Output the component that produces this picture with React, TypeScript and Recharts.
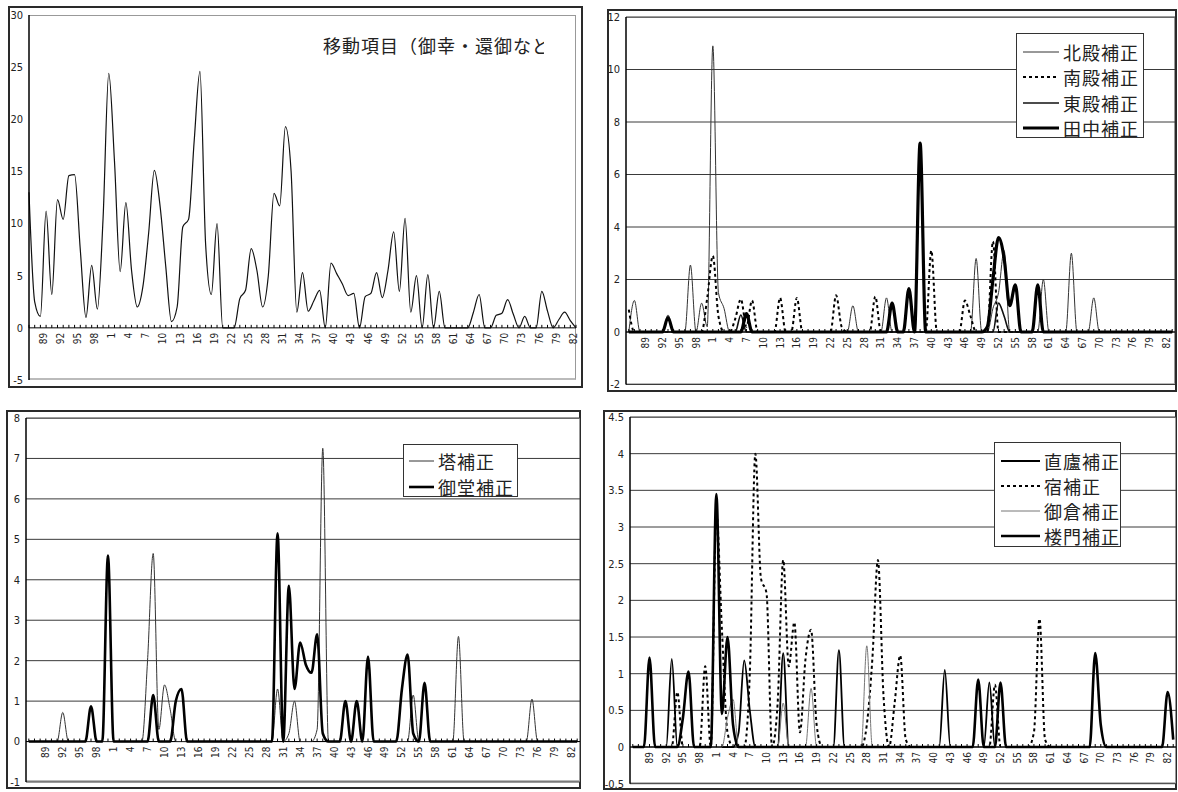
import React from 'react';
import { LineChart, Line, XAxis, YAxis, CartesianGrid, ReferenceLine } from 'recharts';

const NARROW = "'Liberation Sans Narrow', 'Arial Narrow', 'DejaVu Sans Condensed', sans-serif";
const CJK = "'Noto Sans CJK JP', 'Noto Sans CJK SC', sans-serif";

// year labels (two-digit), top-left panel runs 86..82, the others 86..83
const yearsA: string[] = [
  '86', '87', '88', '89', '90', '91', '92', '93', '94', '95', '96', '97', '98', '99',
  '0', '1', '2', '3', '4', '5', '6', '7', '8', '9',
  '10', '11', '12', '13', '14', '15', '16', '17', '18', '19',
  '20', '21', '22', '23', '24', '25', '26', '27', '28', '29',
  '30', '31', '32', '33', '34', '35', '36', '37', '38', '39',
  '40', '41', '42', '43', '44', '45', '46', '47', '48', '49',
  '50', '51', '52', '53', '54', '55', '56', '57', '58', '59',
  '60', '61', '62', '63', '64', '65', '66', '67', '68', '69',
  '70', '71', '72', '73', '74', '75', '76', '77', '78', '79',
  '80', '81', '82',
];
const yearsB: string[] = [...yearsA, '83'];

// 移動項目
const moveVals = [
  13, 2.5, 1.1, 11.2, 3.2, 12.3, 10.4, 14.6, 14.7, 7.5,
  1.0, 6.0, 1.8, 10.5, 24.4, 16, 5.4, 12, 5.5, 2.0,
  4.0, 9.1, 15.1, 11.7, 5.9, 0.6, 2.0, 9.7, 10.4, 18,
  24.6, 8, 3.2, 10.0, 0, 0, 0, 2.8, 3.6, 7.6,
  5.5, 2.0, 5, 12.9, 11.7, 19.3, 15, 1.5, 5.3, 1.6,
  2.6, 3.6, 0, 6.2, 5.2, 4.2, 3.1, 3.3, 0, 3.0,
  3.3, 5.3, 2.9, 5.5, 9.2, 3.5, 10.5, 1.5, 5.0, 0,
  5.1, 0, 3.5, 0, 0, 0, 0, 0, 1.5, 3.2,
  0, 0, 1.2, 1.4, 2.7, 1.3, 0, 1.1, 0, 0,
  3.5, 1.6, 0, 0.8, 1.5, 0.7, 0,
];

// 北殿・南殿・東殿・田中
const hokudenVals = [
  0, 1.2, 0, 0, 0, 0, 0, 0.65, 0, 0,
  0, 2.55, 0, 1.1, 0.2, 10.9, 1.5, 0.9, 0, 0,
  0, 0, 0, 0, 0, 0, 0, 0, 0, 0,
  0, 0, 0, 0, 0, 0, 0, 0, 0, 0,
  1.0, 0, 0, 0, 0, 0, 1.3, 0, 0, 0,
  0, 0, 0, 0, 0, 0, 0, 0, 0, 0,
  0, 0, 2.8, 0, 0, 0.9, 1.5, 3.1, 0, 0,
  0, 0, 0, 0, 2.0, 0, 0, 0, 0, 3.0,
  0, 0, 0, 1.3, 0, 0, 0, 0, 0, 0,
  0, 0, 0, 0, 0, 0, 0, 0,
];
const nandenVals = [
  0.85, 0, 0, 0, 0, 0, 0, 0, 0, 0,
  0, 0, 0, 0, 1.3, 2.9, 0.6, 0, 0, 0.5,
  1.25, 0.2, 1.2, 0, 0, 0, 0, 1.3, 0, 0,
  1.3, 0, 0, 0, 0, 0, 0, 1.4, 0.2, 0,
  0, 0, 0, 0, 1.35, 0, 0, 0, 0, 0,
  0, 0, 0, 0, 3.1, 0, 0, 0, 0, 0,
  1.2, 0.6, 0, 0, 0, 3.45, 0, 0, 0, 0,
  0, 0, 0, 0, 0, 0, 0, 0, 0, 0,
  0, 0, 0, 0, 0, 0, 0, 0, 0, 0,
  0, 0, 0, 0, 0, 0, 0, 0,
];
const todenVals = [
  0, 0, 0, 0, 0, 0, 0, 0, 0, 0,
  0, 0, 0, 0, 0, 0, 0, 0, 0, 0,
  0.65, 0, 0, 0, 0, 0, 0, 0, 0, 0,
  0, 0, 0, 0, 0, 0, 0, 0, 0, 0,
  0, 0, 0, 0, 0, 0, 0, 0, 0, 0,
  0, 0, 0, 0, 0, 0, 0, 0, 0, 0,
  0, 0, 0, 0, 0, 0, 1.1, 0.6, 0, 0,
  0, 0, 0, 0, 0, 0, 0, 0, 0, 0,
  0, 0, 0, 0, 0, 0, 0, 0, 0, 0,
  0, 0, 0, 0, 0, 0, 0, 0,
];
const tanakaVals = [
  0, 0, 0, 0, 0, 0, 0, 0.55, 0, 0,
  0, 0, 0, 0, 0, 0, 0, 0, 0, 0,
  0, 0.7, 0, 0, 0, 0, 0, 0, 0, 0,
  0, 0, 0, 0, 0, 0, 0, 0, 0, 0,
  0, 0, 0, 0, 0, 0, 0, 1.1, 0, 0,
  1.65, 0, 7.2, 0, 0, 0, 0, 0, 0, 0,
  0, 0, 0, 0, 0.2, 2.0, 3.6, 2.8, 1.0, 1.8,
  0, 0, 0, 1.8, 0, 0, 0, 0, 0, 0,
  0, 0, 0, 0, 0, 0, 0, 0, 0, 0,
  0, 0, 0, 0, 0, 0, 0, 0,
];

// 塔・御堂
const touVals = [
  0, 0, 0, 0, 0, 0, 0.72, 0, 0, 0,
  0, 0, 0, 0, 0, 0, 0, 0, 0, 0,
  0, 2.0, 4.65, 0.3, 1.4, 0.8, 0, 0, 0, 0,
  0, 0, 0, 0, 0, 0, 0, 0, 0, 0,
  0, 0, 0, 0, 1.3, 0, 0.2, 1.0, 0, 0,
  0, 0.3, 7.25, 0, 0, 0, 0, 0, 0, 0,
  0, 0, 0, 0, 0, 0, 0, 0, 1.15, 0,
  0, 0, 0, 0, 0, 0, 2.6, 0, 0, 0,
  0, 0, 0, 0, 0, 0, 0, 0, 0, 1.05,
  0, 0, 0, 0, 0, 0, 0, 0,
];
const midouVals = [
  0, 0, 0, 0, 0, 0, 0, 0, 0, 0,
  0, 0.87, 0, 0, 4.6, 0, 0, 0, 0, 0,
  0, 0, 1.15, 0, 0, 0, 1.0, 1.3, 0, 0,
  0, 0, 0, 0, 0, 0, 0, 0, 0, 0,
  0, 0, 0, 0, 5.15, 0, 3.85, 1.3, 2.45, 1.9,
  1.7, 2.65, 0.2, 0, 0, 0, 1.0, 0, 1.0, 0,
  2.1, 0, 0, 0, 0, 0, 1.3, 2.15, 0.2, 0,
  1.45, 0, 0, 0, 0, 0, 0, 0, 0, 0,
  0, 0, 0, 0, 0, 0, 0, 0, 0, 0,
  0, 0, 0, 0, 0, 0, 0, 0,
];

// 直廬・宿・御倉・楼門
const jikiroVals = [
  0, 0, 0, 0, 0, 0, 0, 1.2, 0, 0,
  0, 0, 0, 0, 0, 0, 0, 0, 0, 0.2,
  1.18, 0.5, 0, 0, 0, 0, 0, 1.28, 0, 0,
  0, 0, 0, 0, 0, 0, 0, 1.32, 0, 0,
  0, 0, 0, 0, 0, 0, 0, 0, 0, 0,
  0, 0, 0, 0, 0, 0, 1.05, 0, 0, 0,
  0, 0, 0, 0, 0.88, 0, 0, 0, 0, 0,
  0, 0, 0, 0, 0, 0, 0, 0, 0, 0,
  0, 0, 0, 0, 0, 0, 0, 0, 0, 0,
  0, 0, 0, 0, 0, 0, 0, 0,
];
const shukuVals = [
  0, 0, 0, 0, 0, 0, 0, 0, 0.75, 0,
  0, 0, 0, 1.1, 0, 3.2, 1.6, 0.2, 0, 0,
  0, 1.0, 4.0, 2.3, 2.1, 0, 0.6, 2.55, 1.1, 1.7,
  0.2, 1.2, 1.6, 0.3, 0, 0, 0, 0, 0, 0,
  0, 0, 0.3, 1.2, 2.55, 0.7, 0, 0.6, 1.25, 0.1,
  0, 0, 0, 0, 0, 0, 0, 0, 0, 0,
  0, 0, 0, 0, 0, 0.85, 0, 0, 0, 0,
  0, 0, 0.2, 1.75, 0.1, 0, 0, 0, 0, 0,
  0, 0, 0, 0, 0, 0, 0, 0, 0, 0,
  0, 0, 0, 0, 0, 0, 0, 0,
];
const mikuraVals = [
  0, 0, 0, 0, 0, 0, 0, 0, 0, 0,
  0, 0, 0, 0, 0, 0, 0, 0.4, 0.65, 0,
  0, 0, 0, 0, 0, 0, 0, 0.6, 0, 0,
  0, 0, 0.8, 0, 0, 0, 0, 0, 0, 0,
  0, 0, 1.38, 0, 0, 0, 0, 0, 0, 0,
  0, 0, 0, 0, 0, 0, 0, 0, 0, 0,
  0, 0, 0, 0, 0, 0, 0, 0, 0, 0,
  0, 0, 0, 0, 0, 0, 0, 0, 0, 0,
  0, 0, 0, 0, 0, 0, 0, 0, 0, 0,
  0, 0, 0, 0, 0, 0, 0, 0,
];
const roumonVals = [
  0, 0, 0, 1.22, 0, 0, 0, 0, 0, 0.4,
  1.03, 0, 0, 0, 0, 3.45, 0.45, 1.5, 0.3, 0,
  0, 0, 0, 0, 0, 0, 0, 0, 0, 0,
  0, 0, 0, 0, 0, 0, 0, 0, 0, 0,
  0, 0, 0, 0, 0, 0, 0, 0, 0, 0,
  0, 0, 0, 0, 0, 0, 0, 0, 0, 0,
  0, 0, 0.92, 0, 0, 0, 0.88, 0, 0, 0,
  0, 0, 0, 0, 0, 0, 0, 0, 0, 0,
  0, 0, 0, 1.28, 0.3, 0, 0, 0, 0, 0,
  0, 0, 0, 0, 0, 0, 0.75, 0.1,
];

type Series = { key: string; name: string; values: number[]; stroke: string; width: number; dash?: string };
type Rect = { left: number; top: number; width: number; height: number };

interface LegendBox extends Rect { firstRow: number; rowH: number; lineW: number; lineX: number }

interface PanelProps {
  box: Rect;
  plot: { left: number; top: number; right: number; bottom: number };
  domain: [number, number];
  yTicks: number[];
  years: string[];
  series: Series[];
  grid: boolean;
  between: boolean;
  labelDx: number;
  legend?: LegendBox;
}

const Legend = ({ lg, items }: { lg: LegendBox; items: Series[] }) => (
  <div style={{
    position: 'absolute', left: lg.left, top: lg.top, width: lg.width, height: lg.height,
    border: '1px solid #333', background: '#fff', boxSizing: 'border-box',
  }}>
    {items.map((s, i) => (
      <div key={s.key} style={{ position: 'absolute', left: 0, top: lg.firstRow + i * lg.rowH - 12, height: 24, display: 'flex', alignItems: 'center' }}>
        <svg width={lg.lineX + lg.lineW + 4} height={24}>
          <line x1={lg.lineX} x2={lg.lineX + lg.lineW} y1={12} y2={12} stroke={s.stroke}
            strokeWidth={s.width} strokeDasharray={s.dash} />
        </svg>
        <span style={{ fontFamily: CJK, fontSize: 18, letterSpacing: 1, color: '#222', lineHeight: '24px', whiteSpace: 'nowrap' }}>
          {s.name}
        </span>
      </div>
    ))}
  </div>
);

const X_AXIS_H = 2;

const Panel = ({ box, plot, domain, yTicks, years, series, grid, between, labelDx, legend }: PanelProps) => {
  const data = years.map((y, i) => {
    const row: Record<string, string | number> = { year: y };
    series.forEach((s) => { row[s.key] = s.values[i]; });
    return row;
  });

  const plotW = plot.right - plot.left;
  const plotH = plot.bottom - plot.top;
  const step = between ? plotW / years.length : plotW / (years.length - 1);
  const mTop = plot.top - box.top;
  const zeroY = mTop + (plotH * domain[1]) / (domain[1] - domain[0]);

  const renderTick = (props: any) => {
    const { x, index, payload } = props;
    const show = index > 0 && index % 3 === 0;
    return (
      <g key={`t-${index}`}>
        <line x1={x} x2={x} y1={zeroY - 3} y2={zeroY} stroke="#000" strokeWidth={1} />
        {show && (
          <text transform={`translate(${x + labelDx},${zeroY + 5}) rotate(-90)`} textAnchor="end"
            dominantBaseline="central" fontSize={10} fill="#222" fontFamily={NARROW}>
            {payload.value}
          </text>
        )}
      </g>
    );
  };

  return (
    <div style={{ position: 'absolute', left: box.left, top: box.top, width: box.width, height: box.height }}>
      <div style={{ position: 'absolute', inset: 0, border: '2px solid #2a2a2a', boxSizing: 'border-box' }} />
      <div style={{
        position: 'absolute', left: plot.left - box.left, top: mTop, width: plotW, height: plotH,
        borderTop: '1.5px solid #999', borderRight: '1.5px solid #999', borderBottom: '2px solid #bbb', boxSizing: 'border-box',
      }} />
      <div style={{ position: 'absolute', left: 0, top: 0 }}>
        <LineChart width={box.width} height={box.height} data={data}
          margin={{ top: mTop, right: box.left + box.width - plot.right, bottom: box.top + box.height - plot.bottom - X_AXIS_H, left: 0 }}>
          {grid && <CartesianGrid vertical={false} stroke="#3a3a3a" strokeWidth={1} />}
          <XAxis dataKey="year" height={X_AXIS_H} axisLine={false} tickLine={false} interval={0}
            padding={{ left: between ? step / 2 : 0, right: between ? step / 2 : 0 }} tick={renderTick} />
          <YAxis domain={domain} ticks={yTicks} interval={0} width={plot.left - box.left}
            axisLine={{ stroke: '#000', strokeWidth: 1.5 }} tickLine={false} tickSize={0} tickMargin={6}
            tick={{ fontSize: 11, fill: '#222', fontFamily: NARROW }} allowDataOverflow />
          <ReferenceLine y={0} stroke="#000" strokeWidth={1} />
          {series.map((s) => (
            <Line key={s.key} type="monotone" dataKey={s.key} name={s.name} stroke={s.stroke}
              strokeWidth={s.width} strokeDasharray={s.dash} dot={false} activeDot={false}
              isAnimationActive={false} />
          ))}
        </LineChart>
      </div>
      {legend && <Legend lg={legend} items={series} />}
    </div>
  );
};

const moveSeries: Series[] = [
  { key: 'move', name: '移動項目', values: moveVals, stroke: '#111', width: 1.2 },
];
const hallSeries: Series[] = [
  { key: 'hoku', name: '北殿補正', values: hokudenVals, stroke: '#333', width: 1 },
  { key: 'nan', name: '南殿補正', values: nandenVals, stroke: '#000', width: 2, dash: '3 3' },
  { key: 'tou', name: '東殿補正', values: todenVals, stroke: '#111', width: 1.6 },
  { key: 'tanaka', name: '田中補正', values: tanakaVals, stroke: '#000', width: 3.2 },
];
const templeSeries: Series[] = [
  { key: 'tower', name: '塔補正', values: touVals, stroke: '#333', width: 1 },
  { key: 'midou', name: '御堂補正', values: midouVals, stroke: '#000', width: 2.6 },
];
const lodgeSeries: Series[] = [
  { key: 'jikiro', name: '直廬補正', values: jikiroVals, stroke: '#000', width: 1.8 },
  { key: 'shuku', name: '宿補正', values: shukuVals, stroke: '#000', width: 2, dash: '3 3' },
  { key: 'mikura', name: '御倉補正', values: mikuraVals, stroke: '#777', width: 1 },
  { key: 'roumon', name: '楼門補正', values: roumonVals, stroke: '#000', width: 2.6 },
];

export default function App() {
  return (
    <div style={{ position: 'absolute', left: 0, top: 0, width: 1178, height: 792, background: '#fff', overflow: 'hidden' }}>
      <Panel
        box={{ left: 8, top: 6, width: 575, height: 382 }}
        plot={{ left: 29, top: 15, right: 576, bottom: 380 }}
        domain={[-5, 30]} yTicks={[-5, 0, 5, 10, 15, 20, 25, 30]}
        years={yearsA} series={moveSeries} grid={false} between={false} labelDx={-2.8}
      />
      <div style={{
        position: 'absolute', left: 323, top: 33, width: 221, overflow: 'hidden', whiteSpace: 'nowrap',
        fontFamily: CJK, fontSize: 18, letterSpacing: 1, color: '#222', lineHeight: '24px',
      }}>
        移動項目（御幸・還御など
      </div>
      <Panel
        box={{ left: 607, top: 9, width: 570, height: 383 }}
        plot={{ left: 626, top: 17, right: 1175, bottom: 384.5 }}
        domain={[-2, 12]} yTicks={[-2, 0, 2, 4, 6, 8, 10, 12]}
        years={yearsB} series={hallSeries} grid between labelDx={0}
        legend={{ left: 409, top: 24, width: 128, height: 105, firstRow: 18, rowH: 25.3, lineW: 36, lineX: 6 }}
      />
      <Panel
        box={{ left: 6, top: 410, width: 575, height: 379 }}
        plot={{ left: 26, top: 418, right: 580, bottom: 782 }}
        domain={[-1, 8]} yTicks={[-1, 0, 1, 2, 3, 4, 5, 6, 7, 8]}
        years={yearsB} series={templeSeries} grid between labelDx={0}
        legend={{ left: 397, top: 34, width: 115, height: 53, firstRow: 16, rowH: 26, lineW: 25, lineX: 5 }}
      />
      <Panel
        box={{ left: 603, top: 410, width: 574, height: 380 }}
        plot={{ left: 630, top: 417, right: 1176, bottom: 783.7 }}
        domain={[-0.5, 4.5]} yTicks={[-0.5, 0, 0.5, 1, 1.5, 2, 2.5, 3, 3.5, 4, 4.5]}
        years={yearsB} series={lodgeSeries} grid between labelDx={0}
        legend={{ left: 391, top: 32, width: 127, height: 105, firstRow: 18, rowH: 25, lineW: 39, lineX: 6 }}
      />
    </div>
  );
}
